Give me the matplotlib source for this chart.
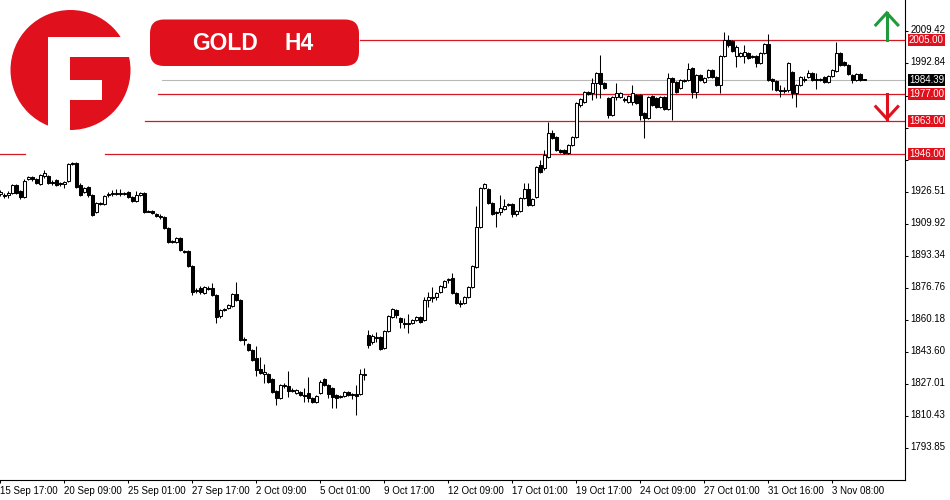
import matplotlib
matplotlib.use("Agg")
import matplotlib.pyplot as plt
import matplotlib.transforms as mtransforms
from matplotlib.patches import Circle, Rectangle, FancyBboxPatch
import numpy as np

plt.rcParams['font.family'] = ['Liberation Sans', 'DejaVu Sans']

# GOLD H4 candles, 15 Sep 17:00 .. 3 Nov
opens = [1925.3, 1924.8, 1924.8, 1925.8, 1930.0, 1926.9, 1923.8, 1933.1, 1934.1, 1933.1,
         1930.5, 1934.6, 1934.6, 1931.5, 1932.6, 1931.0, 1930.5, 1932.0, 1940.8, 1941.4,
         1930.0, 1926.3, 1928.9, 1924.8, 1916.0, 1920.6, 1920.1, 1925.3, 1925.3, 1925.8,
         1925.3, 1925.3, 1926.3, 1923.8, 1921.7, 1924.8, 1925.8, 1916.5, 1916.5, 1915.0,
         1913.9, 1913.4, 1907.7, 1901.0, 1900.5, 1902.5, 1895.8, 1895.8, 1888.0, 1875.1,
         1876.7, 1874.1, 1876.7, 1876.7, 1873.0, 1862.2, 1865.3, 1866.3, 1867.3, 1873.6,
         1870.5, 1850.3, 1847.7, 1844.6, 1840.4, 1834.7, 1832.2, 1832.2, 1829.6, 1823.4,
         1819.7, 1826.5, 1825.9, 1823.4, 1822.3, 1822.8, 1821.3, 1822.3, 1819.7, 1817.7,
         1822.3, 1829.6, 1826.5, 1824.9, 1821.3, 1820.8, 1820.8, 1822.8, 1821.8, 1821.8,
         1821.8, 1831.6, 1852.3, 1848.7, 1851.3, 1851.3, 1845.6, 1854.4, 1861.7, 1865.3,
         1861.1, 1858.6, 1858.0, 1858.6, 1860.1, 1861.7, 1860.1, 1870.5, 1872.0, 1872.0,
         1874.6, 1877.2, 1880.8, 1881.8, 1874.1, 1868.9, 1868.9, 1872.0, 1877.2, 1887.5,
         1908.2, 1928.4, 1927.9, 1920.6, 1916.0, 1916.0, 1917.5, 1920.1, 1920.1, 1915.0,
         1916.5, 1923.2, 1927.9, 1919.6, 1923.8, 1940.3, 1938.8, 1944.5, 1956.9, 1954.8,
         1948.1, 1948.1, 1946.5, 1950.7, 1954.8, 1971.4, 1972.9, 1978.1, 1977.6, 1982.8,
         1987.9, 1982.8, 1975.0, 1966.2, 1975.5, 1975.5, 1974.5, 1972.9, 1972.9, 1976.5,
         1976.5, 1967.2, 1964.6, 1976.0, 1975.0, 1970.3, 1975.5, 1969.3, 1985.3, 1983.3,
         1980.2, 1983.8, 1984.3, 1990.5, 1978.1, 1986.9, 1983.3, 1985.9, 1989.5, 1985.9,
         1981.7, 1996.7, 2005.0, 2004.5, 1996.7, 1996.7, 1996.7, 1998.3, 1996.7, 1996.7,
         1993.1, 1998.3, 2002.9, 1984.8, 1983.8, 1979.1, 1978.6, 1979.1, 1988.4, 1977.6,
         1981.7, 1984.8, 1985.9, 1987.9, 1984.8, 1984.3, 1985.9, 1983.3, 1986.4, 1989.0,
         1998.3, 1993.6, 1992.1, 1986.9, 1984.3, 1987.4, 1984.6]
highs = [1927.4, 1925.8, 1926.9, 1930.5, 1930.5, 1927.4, 1933.1, 1934.6, 1934.6, 1933.6,
         1935.7, 1937.7, 1935.1, 1932.6, 1933.1, 1931.5, 1932.0, 1941.4, 1941.9, 1941.9,
         1931.0, 1928.9, 1929.4, 1925.3, 1921.2, 1921.2, 1924.8, 1926.3, 1927.4, 1927.9,
         1927.9, 1926.3, 1926.9, 1924.3, 1926.9, 1926.3, 1926.3, 1917.0, 1917.0, 1915.5,
         1915.0, 1913.9, 1908.2, 1901.5, 1903.0, 1903.0, 1896.3, 1896.3, 1888.6, 1876.7,
         1877.7, 1877.7, 1877.7, 1879.3, 1873.6, 1865.8, 1866.3, 1868.4, 1874.1, 1879.8,
         1871.0, 1851.3, 1848.2, 1845.1, 1846.6, 1841.0, 1837.3, 1832.7, 1830.1, 1823.9,
         1827.0, 1827.5, 1833.7, 1824.9, 1824.4, 1823.4, 1824.9, 1830.6, 1820.3, 1821.3,
         1829.1, 1830.1, 1827.0, 1825.4, 1821.8, 1821.3, 1823.4, 1823.4, 1822.3, 1826.5,
         1834.7, 1835.3, 1854.9, 1852.9, 1853.9, 1851.8, 1854.9, 1862.7, 1866.3, 1865.8,
         1861.7, 1861.1, 1863.2, 1860.6, 1862.2, 1862.2, 1872.0, 1874.6, 1877.2, 1874.6,
         1878.2, 1880.8, 1881.8, 1884.4, 1874.6, 1870.5, 1872.5, 1877.7, 1888.6, 1919.1,
         1928.9, 1931.0, 1928.4, 1921.2, 1916.5, 1924.8, 1922.7, 1920.6, 1920.6, 1917.0,
         1923.8, 1931.0, 1931.0, 1923.2, 1939.8, 1942.9, 1948.1, 1962.6, 1958.4, 1955.3,
         1948.6, 1948.6, 1951.2, 1955.3, 1972.9, 1975.0, 1978.6, 1978.6, 1985.3, 1988.4,
         1997.2, 1983.3, 1975.5, 1976.0, 1982.8, 1978.1, 1975.5, 1976.5, 1981.7, 1977.1,
         1977.1, 1967.7, 1976.0, 1976.5, 1975.5, 1976.0, 1976.0, 1987.9, 1985.9, 1983.8,
         1984.8, 1984.8, 1993.1, 1991.0, 1987.4, 1987.4, 1985.9, 1990.0, 1990.0, 1986.4,
         1997.2, 2009.1, 2007.6, 2005.0, 2002.4, 1998.8, 2002.4, 1998.8, 1997.2, 1997.2,
         1998.8, 2003.5, 2008.1, 1985.3, 1984.3, 1981.7, 1980.7, 1993.6, 1989.0, 1982.2,
         1986.4, 1986.4, 1989.5, 1988.4, 1987.9, 1985.3, 1986.4, 1986.9, 1990.0, 2004.0,
         1998.8, 1994.1, 1992.6, 1987.4, 1987.9, 1987.9, 1984.8]
lows = [1924.3, 1923.2, 1923.2, 1925.3, 1925.3, 1922.7, 1923.2, 1932.6, 1932.0, 1930.5,
        1930.0, 1933.6, 1930.5, 1930.0, 1929.4, 1929.4, 1928.4, 1931.5, 1940.3, 1928.4,
        1924.3, 1925.8, 1923.8, 1913.9, 1915.5, 1919.6, 1919.6, 1923.8, 1924.3, 1924.8,
        1924.3, 1924.8, 1923.2, 1921.2, 1921.2, 1924.3, 1915.5, 1915.8, 1915.0, 1913.4,
        1912.4, 1907.2, 1899.9, 1899.9, 1899.9, 1895.8, 1894.8, 1887.5, 1873.0, 1874.1,
        1873.6, 1873.6, 1875.6, 1872.5, 1858.6, 1861.1, 1864.8, 1865.8, 1866.8, 1869.9,
        1849.2, 1847.2, 1844.1, 1838.9, 1831.1, 1832.2, 1827.5, 1827.5, 1822.3, 1816.1,
        1819.2, 1824.9, 1820.3, 1822.8, 1821.8, 1820.8, 1817.7, 1817.7, 1817.2, 1817.2,
        1821.8, 1825.9, 1819.7, 1814.6, 1814.6, 1819.7, 1820.3, 1820.8, 1819.2, 1810.9,
        1821.3, 1829.1, 1845.6, 1847.7, 1848.7, 1844.6, 1845.1, 1853.9, 1861.1, 1861.1,
        1856.0, 1856.0, 1853.4, 1858.0, 1859.6, 1858.6, 1859.6, 1866.8, 1869.4, 1870.5,
        1874.1, 1876.7, 1879.3, 1873.6, 1868.4, 1866.8, 1868.4, 1871.5, 1876.7, 1887.0,
        1907.7, 1927.9, 1920.1, 1914.4, 1908.2, 1914.4, 1917.0, 1919.1, 1913.4, 1913.9,
        1916.0, 1922.7, 1919.1, 1919.1, 1923.2, 1936.2, 1937.7, 1943.9, 1953.8, 1947.6,
        1946.5, 1946.0, 1946.0, 1950.1, 1954.3, 1970.3, 1972.4, 1976.5, 1974.0, 1975.0,
        1975.0, 1979.6, 1964.6, 1965.7, 1974.0, 1975.0, 1972.9, 1972.4, 1971.4, 1971.9,
        1963.6, 1954.3, 1964.1, 1970.8, 1969.8, 1969.8, 1968.8, 1968.8, 1963.6, 1977.6,
        1979.6, 1983.3, 1983.8, 1975.0, 1975.0, 1983.8, 1982.8, 1985.3, 1985.3, 1981.2,
        1977.6, 1996.2, 2001.4, 1998.8, 1991.0, 1996.2, 1993.1, 1995.2, 1995.7, 1991.0,
        1992.6, 1997.8, 1983.8, 1979.1, 1978.6, 1975.5, 1977.6, 1978.1, 1975.0, 1970.3,
        1981.2, 1983.3, 1985.3, 1983.8, 1979.6, 1983.8, 1982.8, 1982.8, 1985.9, 1988.4,
        1991.5, 1991.5, 1986.9, 1982.8, 1983.8, 1983.8, 1984.2]
closes = [1926.3, 1924.3, 1925.8, 1930.0, 1925.8, 1923.8, 1932.0, 1934.1, 1933.1, 1931.0,
          1935.1, 1936.2, 1931.0, 1931.0, 1930.0, 1930.5, 1931.5, 1940.8, 1941.4, 1928.9,
          1924.8, 1928.4, 1924.8, 1914.4, 1920.6, 1920.1, 1924.3, 1924.8, 1925.8, 1925.3,
          1925.8, 1925.8, 1923.8, 1921.7, 1924.8, 1925.8, 1916.0, 1916.0, 1915.5, 1913.9,
          1913.4, 1907.7, 1900.5, 1900.5, 1902.5, 1896.3, 1895.3, 1888.0, 1874.6, 1875.6,
          1874.6, 1877.2, 1876.1, 1873.0, 1861.7, 1865.3, 1865.8, 1867.9, 1873.6, 1870.5,
          1849.8, 1849.8, 1844.6, 1839.4, 1834.2, 1832.7, 1833.2, 1828.0, 1822.8, 1819.7,
          1826.5, 1825.9, 1823.4, 1823.9, 1823.9, 1821.3, 1820.8, 1819.7, 1817.7, 1820.8,
          1828.0, 1826.5, 1821.8, 1820.3, 1819.7, 1820.3, 1822.8, 1821.3, 1821.3, 1820.8,
          1832.2, 1832.2, 1847.2, 1851.8, 1850.8, 1845.1, 1854.4, 1862.2, 1865.8, 1862.7,
          1859.1, 1858.0, 1858.6, 1860.1, 1861.7, 1859.1, 1870.5, 1872.0, 1871.5, 1874.1,
          1877.7, 1880.3, 1881.3, 1874.1, 1868.9, 1868.4, 1872.0, 1877.2, 1888.0, 1908.2,
          1928.4, 1930.5, 1920.6, 1915.0, 1915.5, 1918.1, 1919.1, 1919.6, 1915.0, 1916.5,
          1923.2, 1927.9, 1919.6, 1922.7, 1939.3, 1936.7, 1945.5, 1956.9, 1954.3, 1948.1,
          1947.0, 1946.5, 1950.7, 1954.8, 1972.4, 1974.5, 1978.1, 1977.1, 1982.8, 1987.9,
          1982.2, 1980.2, 1966.2, 1975.5, 1977.6, 1977.6, 1974.0, 1976.0, 1977.6, 1972.4,
          1966.2, 1964.6, 1975.5, 1971.4, 1970.3, 1975.5, 1969.3, 1985.3, 1983.3, 1978.1,
          1984.3, 1984.3, 1990.0, 1978.1, 1986.9, 1984.3, 1985.3, 1989.5, 1985.9, 1981.7,
          1996.7, 2005.0, 2002.4, 1999.3, 2001.4, 1998.3, 1998.8, 1995.7, 1996.2, 1993.1,
          1998.3, 2002.9, 1984.3, 1983.8, 1979.1, 1978.6, 1979.1, 1993.1, 1977.6, 1981.7,
          1985.9, 1984.3, 1987.9, 1984.3, 1984.3, 1984.8, 1983.3, 1986.4, 1989.5, 1998.3,
          1992.1, 1992.1, 1987.4, 1984.3, 1987.4, 1984.3, 1984.39]

date_labels = ['15 Sep 17:00', '20 Sep 09:00', '25 Sep 01:00', '27 Sep 17:00', '2 Oct 09:00',
               '5 Oct 01:00', '9 Oct 17:00', '12 Oct 09:00', '17 Oct 01:00', '19 Oct 17:00',
               '24 Oct 09:00', '27 Oct 01:00', '31 Oct 16:00', '3 Nov 08:00']
price_ticks = [2009.42, 1992.84, 1976.26, 1959.67, 1943.09, 1926.51, 1909.92, 1893.34,
               1876.76, 1860.18, 1843.60, 1827.01, 1810.43, 1793.85]
# these sit behind the level boxes on the chart
hidden_ticks = [1976.26, 1959.67, 1943.09]
resistance = 2005.0
supports = [1977.0, 1963.0, 1946.0]
last_price = 1984.39

RED = '#e0101c'
LINE_RED = '#d31a24'
GREEN = '#1f9a3c'

fig = plt.figure(figsize=(9.5, 5), dpi=100)
ax = fig.add_axes([0, 20 / 500, 905 / 950, 480 / 500])

o = np.array(opens)
h = np.array(highs)
l = np.array(lows)
c = np.array(closes)
idx = np.arange(len(o))
up = c >= o

# level lines (drawn under the candles)
ax.axhline(resistance, xmin=360 / 905, color=LINE_RED, lw=0.9, zorder=1)
ax.axhline(supports[0], xmin=158 / 905, color=LINE_RED, lw=0.9, zorder=1)
ax.axhline(supports[1], xmin=145 / 905, color=LINE_RED, lw=0.9, zorder=1)
ax.axhline(supports[2], xmax=25 / 905, color=LINE_RED, lw=0.9, zorder=1)
ax.axhline(supports[2], xmin=105 / 905, color=LINE_RED, lw=0.9, zorder=1)
ax.axhline(last_price, xmin=162 / 905, color='#b8b8b8', lw=0.8, zorder=1)

# candles
ax.vlines(idx, l, h, color='black', lw=0.75, zorder=3)
lo = np.minimum(o, c)
ht = np.abs(c - o)
ax.bar(idx[up], ht[up], bottom=lo[up], width=0.6, facecolor='white',
       edgecolor='black', linewidth=0.75, zorder=4)
ax.bar(idx[~up], ht[~up], bottom=lo[~up], width=0.6, facecolor='black',
       edgecolor='black', linewidth=0.75, zorder=4)

ax.set_xlim(-0.1, -0.1 + 905 / 4)
ax.set_ylim(1777.3, 2025.7)

# up / down arrows at the right
arrow_x = 221.6
ax.plot([arrow_x, arrow_x], [resistance, 2019.0], color=GREEN, lw=2.2, zorder=5)
ax.plot([arrow_x - 2.75, arrow_x, arrow_x + 2.75], [2012.8, 2019.0, 2012.8], color=GREEN,
        lw=2.2, solid_joinstyle='miter', zorder=5)
ax.plot([arrow_x, arrow_x], [supports[0], 1964.3], color=RED, lw=2.2, zorder=5)
ax.plot([arrow_x - 2.75, arrow_x, arrow_x + 2.75], [1970.5, 1964.3, 1970.5], color=RED,
        lw=2.2, solid_joinstyle='miter', zorder=5)

for s in ['left', 'top']:
    ax.spines[s].set_visible(False)
for s in ['right', 'bottom']:
    ax.spines[s].set_linewidth(0.8)

ax.yaxis.tick_right()
ax.set_yticks(price_ticks)
ax.set_yticklabels(['' if v in hidden_ticks else '%.2f' % v for v in price_ticks])
ax.tick_params(axis='y', direction='out', length=2.5, width=0.75, labelsize=7, pad=1.5)
# labels sit a touch above their tick marks
lift = mtransforms.ScaledTranslation(0, 2 / 100, fig.dpi_scale_trans)
for lbl in ax.get_yticklabels():
    lbl.set_transform(lbl.get_transform() + lift)
ax.set_xticks(idx[::16])
ax.set_xticklabels(date_labels, ha='left')
ax.tick_params(axis='x', direction='out', length=2.5, width=0.75, labelsize=7, pad=2)

# price boxes on the axis
trans = mtransforms.blended_transform_factory(ax.transAxes, ax.transData)
for v in [resistance] + supports:
    ax.text(1 + 4 / 905, v, '%.2f' % v, transform=trans, ha='left', va='center',
            color='white', fontsize=7, clip_on=False, zorder=6,
            bbox=dict(boxstyle='square,pad=0.08', fc=RED, ec='none'))
ax.text(1 + 4 / 905, last_price, '%.2f' % last_price, transform=trans, ha='left',
        va='center', color='white', fontsize=7, clip_on=False, zorder=6,
        bbox=dict(boxstyle='square,pad=0.08', fc='black', ec='none'))

# logo and title, in pixel space
ov = fig.add_axes([0, 0, 1, 1])
ov.set_xlim(0, 950)
ov.set_ylim(500, 0)
ov.axis('off')
ov.patch.set_visible(False)
ov.add_patch(Circle((70.5, 70), 60, color=RED, lw=0))
ov.add_patch(Rectangle((48.3, 36.7), 21.7, 100, color='white', lw=0))
ov.add_patch(Rectangle((48.3, 36.7), 90, 20, color='white', lw=0))
ov.add_patch(Rectangle((70, 80), 31.7, 20, color='white', lw=0))

ov.add_patch(FancyBboxPatch((150, 19.5), 209, 46.5, boxstyle='round,pad=0,rounding_size=14',
                            fc=RED, ec='none'))
ov.text(192, 50, 'GOLD', color='white', fontsize=16.5, fontweight='bold',
        ha='left', va='baseline')
ov.text(285, 50, 'H4', color='white', fontsize=16.5, fontweight='bold',
        ha='left', va='baseline')

fig.savefig('out.png', dpi=100, facecolor='white')
